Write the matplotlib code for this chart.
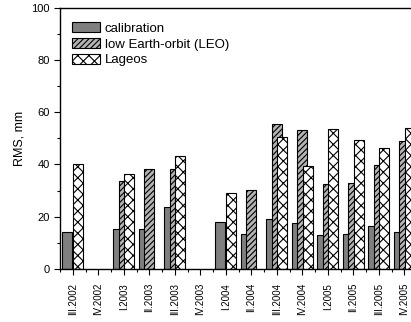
import numpy as np
import matplotlib
matplotlib.use("Agg")
from matplotlib import pyplot as plt
from matplotlib.ticker import MultipleLocator

plt.rcParams['font.family'] = ['Liberation Sans', 'DejaVu Sans']
plt.rcParams['hatch.linewidth'] = 0.8

quarters = ['III.2002', 'IV.2002', 'I.2003', 'II.2003', 'III.2003', 'IV.2003',
            'I.2004', 'II.2004', 'III.2004', 'IV.2004', 'I.2005', 'II.2005',
            'III.2005', 'IV.2005']
nan = np.nan
calibration = [14.2, nan, 15.2, 15.2, 23.6, nan, 17.9, 13.4, 19.3, 17.5, 13.0, 13.5, 16.3, 14.2]
leo = [nan, nan, 33.5, 38.1, 38.3, nan, nan, 30.1, 55.6, 53.1, 32.4, 32.7, 39.7, 48.9]
lageos = [40.3, nan, 36.3, nan, 43.2, nan, 28.9, nan, 50.5, 39.3, 53.4, 49.3, 46.1, 53.9]

fig = plt.figure(figsize=(4.11, 3.22), dpi=100)
ax = fig.add_axes([60 / 411, 53 / 322, 357 / 411, 261.5 / 322])

x = np.arange(len(quarters))
w = 0.39
off = 0.215
ax.bar(x - off, calibration, w, color='#7f7f7f', edgecolor='black', linewidth=0.8,
       label='calibration')
ax.bar(x, leo, w, color='#b4b4b4', edgecolor='black', hatch='//////', linewidth=0.8,
       label='low Earth-orbit (LEO)')
ax.bar(x + off, lageos, w, color='white', edgecolor='black', hatch='xxx', linewidth=0.8,
       label='Lageos')

ax.set_xlim(-0.5, len(quarters) - 0.5)
ax.set_ylim(0, 100)
ax.set_xticks(x)
ax.set_xticklabels(quarters, rotation=90, fontsize=7)
ax.xaxis.set_minor_locator(MultipleLocator(1, offset=0.5))
ax.yaxis.set_major_locator(MultipleLocator(20))
ax.yaxis.set_minor_locator(MultipleLocator(10))
ax.tick_params(which='major', direction='out', length=4, width=0.8, labelsize=8)
ax.tick_params(which='minor', direction='out', length=2.5, width=0.8)
ax.tick_params(axis='x', pad=6, labelsize=7)
ax.set_ylabel('RMS, mm', fontsize=9)
for s in ax.spines.values():
    s.set_linewidth(1.0)

ax.legend(loc='upper left', bbox_to_anchor=(0.0, 0.99), frameon=False, fontsize=9.5,
          handlelength=2.1, handleheight=0.8, handletextpad=0.4, labelspacing=0.25,
          borderaxespad=0.5)

fig.savefig('out.png', dpi=100)
